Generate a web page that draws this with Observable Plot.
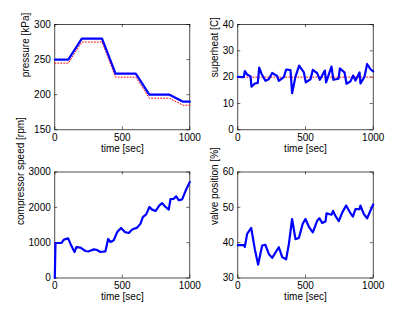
<!DOCTYPE html>
<html>
<head>
<meta charset="utf-8">
<script src="https://cdn.jsdelivr.net/npm/d3@7"></script>
<script src="https://cdn.jsdelivr.net/npm/@observablehq/plot@0.6"></script>
<style>
  html, body { margin: 0; padding: 0; background: #fff; }
  #root { position: relative; width: 415px; height: 312px; overflow: hidden; }
  .panel { position: absolute; }
  .panel svg { overflow: visible; background: transparent; }
</style>
</head>
<body>
<div id="root"></div>
<script>
// ---- data ----
const pressureTime   = [0, 100, 200, 350, 450, 600, 700, 850, 950, 1000];
const pressureActual = [250, 250, 280, 280, 230, 230, 200, 200, 190, 190];
const pressureRef    = [245, 245, 275, 275, 225, 225, 195, 195, 185, 185];

const superheatTime = [0, 44, 52, 69, 94, 101, 126, 148, 158, 175, 204, 229, 254, 290, 303, 340, 357, 389, 401, 426, 453, 488, 502, 537, 554, 586, 606, 643, 652, 692, 706, 744, 754, 788, 803, 832, 852, 869, 899, 906, 936, 955, 980, 1000];
const superheatVal  = [20.1, 20, 22.3, 21, 20.3, 16.4, 17.6, 17.8, 23.6, 21.3, 18.6, 19.2, 21.6, 20.5, 18.6, 20, 22.9, 22.7, 13.9, 20.2, 24.4, 21.8, 18, 19.2, 22.8, 21.5, 19, 22.5, 18, 24, 19, 19.4, 23.3, 21.8, 17.5, 18.4, 20.6, 18.7, 21.8, 17.6, 20.2, 25, 23, 22.2];
const superheatRefTime = [0, 1000];
const superheatRef     = [20, 20];

const speedTime = [0, 5, 49, 67, 99, 121, 146, 160, 190, 227, 252, 289, 309, 338, 375, 395, 412, 437, 462, 491, 519, 548, 573, 610, 635, 652, 677, 701, 721, 746, 775, 795, 815, 844, 857, 881, 899, 919, 943, 968, 1000];
const speedVal  = [0, 990, 990, 1085, 1120, 925, 735, 875, 860, 765, 755, 810, 800, 735, 755, 1105, 1020, 1070, 1300, 1415, 1300, 1275, 1375, 1425, 1540, 1725, 1800, 2010, 1935, 1895, 2055, 2120, 2030, 1935, 2230, 2240, 2310, 2200, 2225, 2460, 2720];

const valveTime = [0, 44, 52, 69, 99, 126, 150, 180, 204, 229, 254, 286, 303, 328, 357, 377, 401, 426, 451, 480, 500, 525, 554, 586, 603, 623, 648, 655, 692, 704, 722, 746, 771, 800, 828, 850, 869, 899, 906, 931, 955, 980, 1000];
const valveVal  = [39.3, 39.3, 38.8, 42.5, 44.2, 38.1, 33.8, 39.2, 39.4, 36.8, 35.7, 37.7, 38.7, 35.9, 35.3, 39.6, 46.7, 41, 41.3, 45.4, 46.7, 44.5, 42.9, 46.2, 46.9, 45.6, 46, 48.3, 47.9, 49, 47.5, 46.1, 48.5, 50.5, 48.6, 47.4, 49.5, 49.5, 50.5, 48.1, 46.9, 49.1, 50.8];

const xTicks = [0, 500, 1000];
const xLabel = "time [sec]";
const pressureTicks  = [150, 200, 250, 300];
const superheatTicks = [0, 10, 20, 30, 40];
const speedTicks     = [0, 1000, 2000, 3000];
const valveTicks     = [30, 40, 50, 60];

const zip = (t, v) => t.map((x, i) => ({x, y: v[i]}));
const fmt = d => String(d);

function panel({left, top, width, height, mL, mT, plotW, plotH, yDomain, yTicks, yLabel, yLabelDx, lines}) {
  const mR = width - mL - plotW;
  const mB = height - mT - plotH;
  const tick = 3;
  const chart = Plot.plot({
    width, height,
    marginLeft: mL, marginRight: mR, marginTop: mT, marginBottom: mB,
    style: {fontFamily: "'Liberation Sans', Arial, sans-serif", fontSize: "10px", color: "#000", background: "transparent", overflow: "visible"},
    x: {domain: [0, 1000]},
    y: {domain: yDomain},
    marks: [
      Plot.axisX(xTicks, {anchor: "bottom", tickSize: 0, tickPadding: 4, label: null, fill: "#000", tickFormat: fmt}),
      Plot.axisY(yTicks, {anchor: "left", tickSize: 0, tickPadding: 4, label: null, fill: "#000", tickFormat: fmt}),
      // inward ticks on all four sides
      Plot.tickX(xTicks, {x: d => d, insetTop: plotH - tick, stroke: "#000", strokeWidth: 0.6}),
      Plot.tickX(xTicks, {x: d => d, insetBottom: plotH - tick, stroke: "#000", strokeWidth: 0.6}),
      Plot.tickY(yTicks, {y: d => d, insetRight: plotW - tick, stroke: "#000", strokeWidth: 0.6}),
      Plot.tickY(yTicks, {y: d => d, insetLeft: plotW - tick, stroke: "#000", strokeWidth: 0.6}),
      Plot.frame({stroke: "#000", strokeWidth: 0.7}),
      ...lines,
      Plot.text([xLabel], {frameAnchor: "bottom", dy: 19, lineAnchor: "middle", fill: "#000", fontSize: 10}),
      Plot.text([yLabel], {frameAnchor: "left", dx: -yLabelDx, rotate: -90, lineAnchor: "middle", fill: "#000", fontSize: 10})
    ]
  });
  const div = document.createElement("div");
  div.className = "panel";
  div.style.left = left + "px";
  div.style.top = top + "px";
  div.appendChild(chart);
  document.getElementById("root").appendChild(div);
}

const blue = (data) => Plot.line(data, {x: "x", y: "y", stroke: "#0000ff", strokeWidth: 2.2, strokeLinejoin: "round"});
const red = (data) => Plot.line(data, {x: "x", y: "y", stroke: "#ff0000", strokeWidth: 1, strokeDasharray: "1,2"});

panel({left: 0, top: 0, width: 205, height: 150, mL: 54.3, mT: 24, plotW: 135, plotH: 105.3,
  yDomain: [150, 300], yTicks: pressureTicks, yLabel: "pressure [kPa]", yLabelDx: 29,
  lines: [red(zip(pressureTime, pressureRef)), blue(zip(pressureTime, pressureActual))]});

panel({left: 205, top: 0, width: 210, height: 150, mL: 32.3, mT: 24, plotW: 135.4, plotH: 105.3,
  yDomain: [0, 40], yTicks: superheatTicks, yLabel: "superheat [C]", yLabelDx: 23.5,
  lines: [red(zip(superheatRefTime, superheatRef)), blue(zip(superheatTime, superheatVal))]});

panel({left: 0, top: 150, width: 205, height: 162, mL: 54.3, mT: 21.5, plotW: 135, plotH: 106,
  yDomain: [0, 3000], yTicks: speedTicks, yLabel: "compressor speed [rpm]", yLabelDx: 34,
  lines: [blue(zip(speedTime, speedVal))]});

panel({left: 205, top: 150, width: 210, height: 162, mL: 32.3, mT: 21.5, plotW: 135.4, plotH: 106,
  yDomain: [30, 60], yTicks: valveTicks, yLabel: "valve position [%]", yLabelDx: 23.5,
  lines: [blue(zip(valveTime, valveVal))]});
</script>
</body>
</html>
